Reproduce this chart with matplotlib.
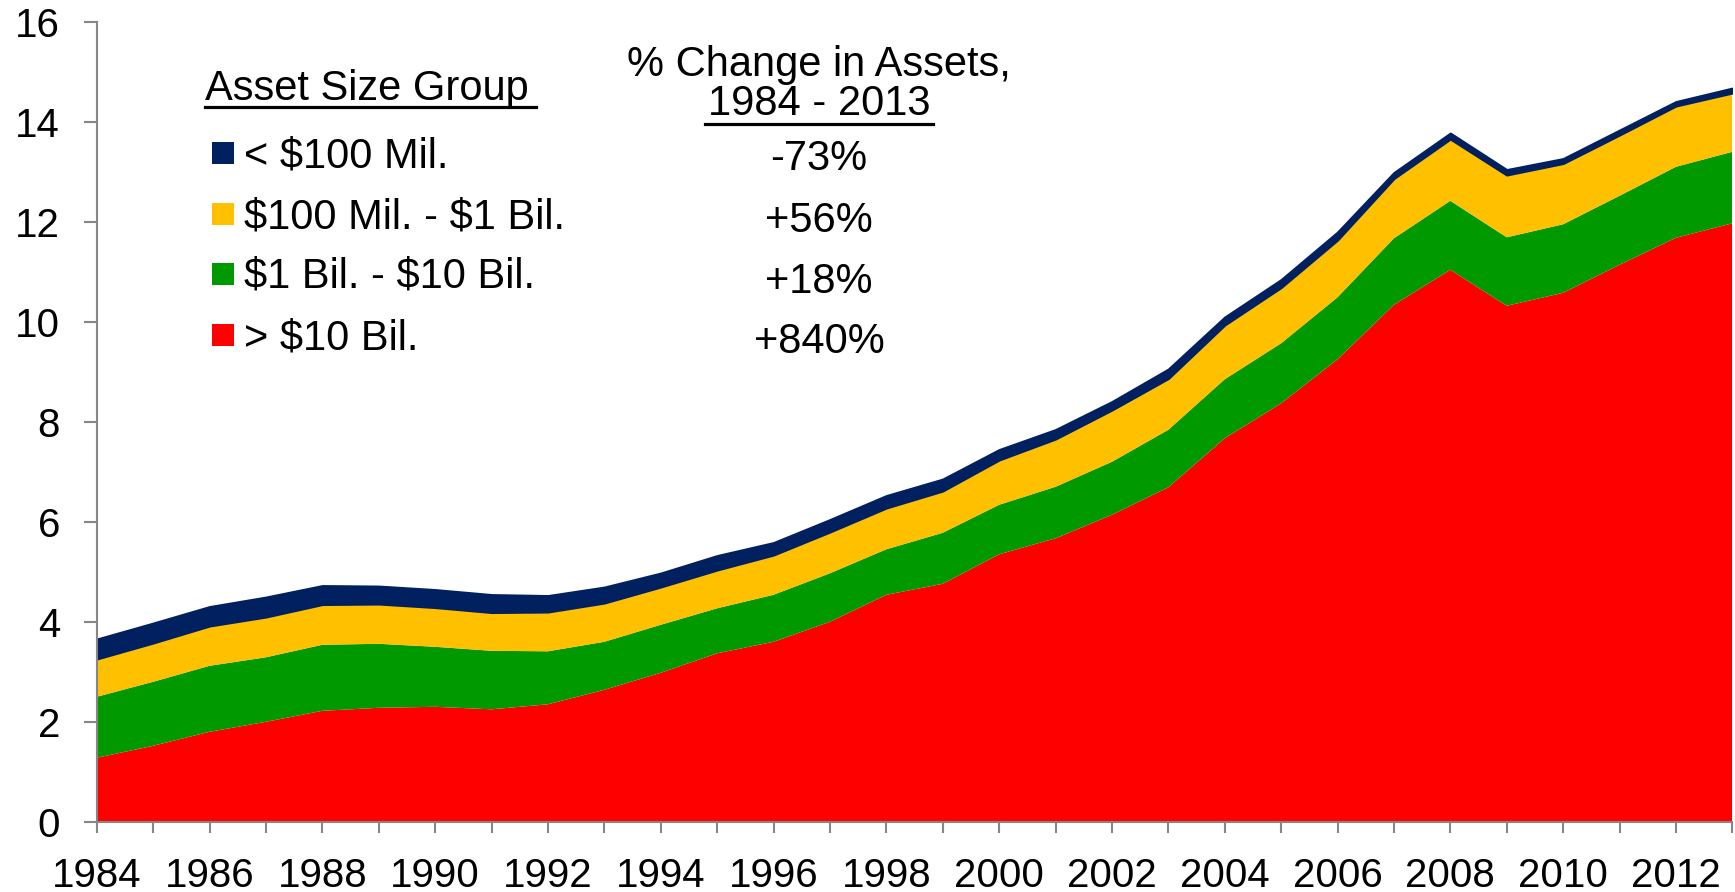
import numpy as np
import matplotlib
matplotlib.use("Agg")
import matplotlib.pyplot as plt
from matplotlib.patches import Rectangle
from matplotlib.lines import Line2D
from matplotlib.ticker import MultipleLocator

plt.rcParams['font.family'] = ['Liberation Sans', 'DejaVu Sans']

# asset totals by bank size group (stacked), 1984 - 2013
years = list(range(1984, 2014))
over_10bil = [1.29, 1.53, 1.81, 2.01, 2.23, 2.29, 2.31, 2.26, 2.36, 2.65,
              2.99, 3.38, 3.61, 4.01, 4.55, 4.77, 5.36, 5.68, 6.15, 6.70,
              7.68, 8.38, 9.26, 10.35, 11.05, 10.33, 10.59, 11.15, 11.69, 11.98]
bil1_10 = [1.22, 1.28, 1.32, 1.29, 1.32, 1.28, 1.20, 1.17, 1.06, 0.96,
           0.96, 0.90, 0.94, 0.97, 0.91, 1.02, 0.99, 1.03, 1.06, 1.15,
           1.18, 1.20, 1.24, 1.33, 1.38, 1.37, 1.37, 1.38, 1.42, 1.43]
mil100_bil1 = [0.76, 0.78, 0.80, 0.81, 0.81, 0.80, 0.79, 0.77, 0.79, 0.78,
               0.76, 0.77, 0.80, 0.83, 0.83, 0.84, 0.90, 0.96, 1.04, 1.03,
               1.09, 1.12, 1.15, 1.20, 1.24, 1.25, 1.22, 1.22, 1.22, 1.18]
under_100mil = [0.39, 0.39, 0.38, 0.39, 0.37, 0.35, 0.35, 0.35, 0.32, 0.31,
                0.27, 0.28, 0.24, 0.24, 0.24, 0.23, 0.20, 0.18, 0.16, 0.18,
                0.15, 0.15, 0.15, 0.11, 0.11, 0.10, 0.09, 0.09, 0.08, 0.09]

group_labels = ['< $100 Mil.', '$100 Mil. - $1 Bil.', '$1 Bil. - $10 Bil.', '> $10 Bil.']
pct_change = ['-73%', '+56%', '+18%', '+840%']
colors = ['#002060', '#FFC000', '#009900', '#FF0000']  # same order as labels

W, H = 1735, 892
fig = plt.figure(figsize=(W / 100, H / 100), dpi=100)
ax = fig.add_axes([96.7 / W, 1 - 822.3 / H, (1732.3 - 96.7) / W, 800 / H])

polys = ax.stackplot(years, over_10bil, bil1_10, mil100_bil1, under_100mil,
                     colors=colors[::-1], linewidth=0)
polys[-1].set_edgecolor(colors[0])
polys[-1].set_linewidth(1.8)

ax.set_xlim(1984, 2013)
ax.set_ylim(0, 16)
ax.xaxis.set_major_locator(MultipleLocator(2))
ax.xaxis.set_minor_locator(MultipleLocator(1))
ax.yaxis.set_major_locator(MultipleLocator(2))

for s in ['top', 'right']:
    ax.spines[s].set_visible(False)
for s in ['left', 'bottom']:
    ax.spines[s].set_color('#868686')
    ax.spines[s].set_linewidth(1.5)
    ax.spines[s].set_zorder(5)

ax.tick_params(axis='x', which='both', direction='out', length=8, width=1.5,
               color='#868686', labelsize=29, pad=17)
ax.tick_params(axis='y', which='both', direction='out', length=9.5, width=1.5,
               color='#868686', labelsize=29, pad=17)


def fx(px):
    return px / W


def fy(py):
    return 1 - py / H


# legend block
fig.text(fx(205), fy(100), 'Asset Size Group', fontsize=30, va='baseline', ha='left')
fig.add_artist(Line2D([fx(205), fx(536)], [fy(106.5), fy(106.5)],
                      transform=fig.transFigure, color='black', lw=2.3))
row_centres = [153, 214, 274, 335]
for lab, col, yc in zip(group_labels, colors, row_centres):
    fig.add_artist(Rectangle((fx(212), fy(yc + 11)), 22 / W, 22 / H,
                             transform=fig.transFigure, color=col, lw=0))
    fig.text(fx(244), fy(yc + 14), lab, fontsize=30, va='baseline', ha='left',
             parse_math=False)

# percent change column
fig.text(fx(819), fy(76), '% Change in Assets,', fontsize=30, va='baseline', ha='center')
fig.text(fx(819), fy(115), '1984 - 2013', fontsize=30, va='baseline', ha='center')
fig.add_artist(Line2D([fx(705), fx(933)], [fy(123.5), fy(123.5)],
                      transform=fig.transFigure, color='black', lw=2.3))
for txt, yb in zip(pct_change, [170, 232, 293, 353]):
    fig.text(fx(819), fy(yb), txt, fontsize=30, va='baseline', ha='center')

fig.savefig('out.png', dpi=100)
